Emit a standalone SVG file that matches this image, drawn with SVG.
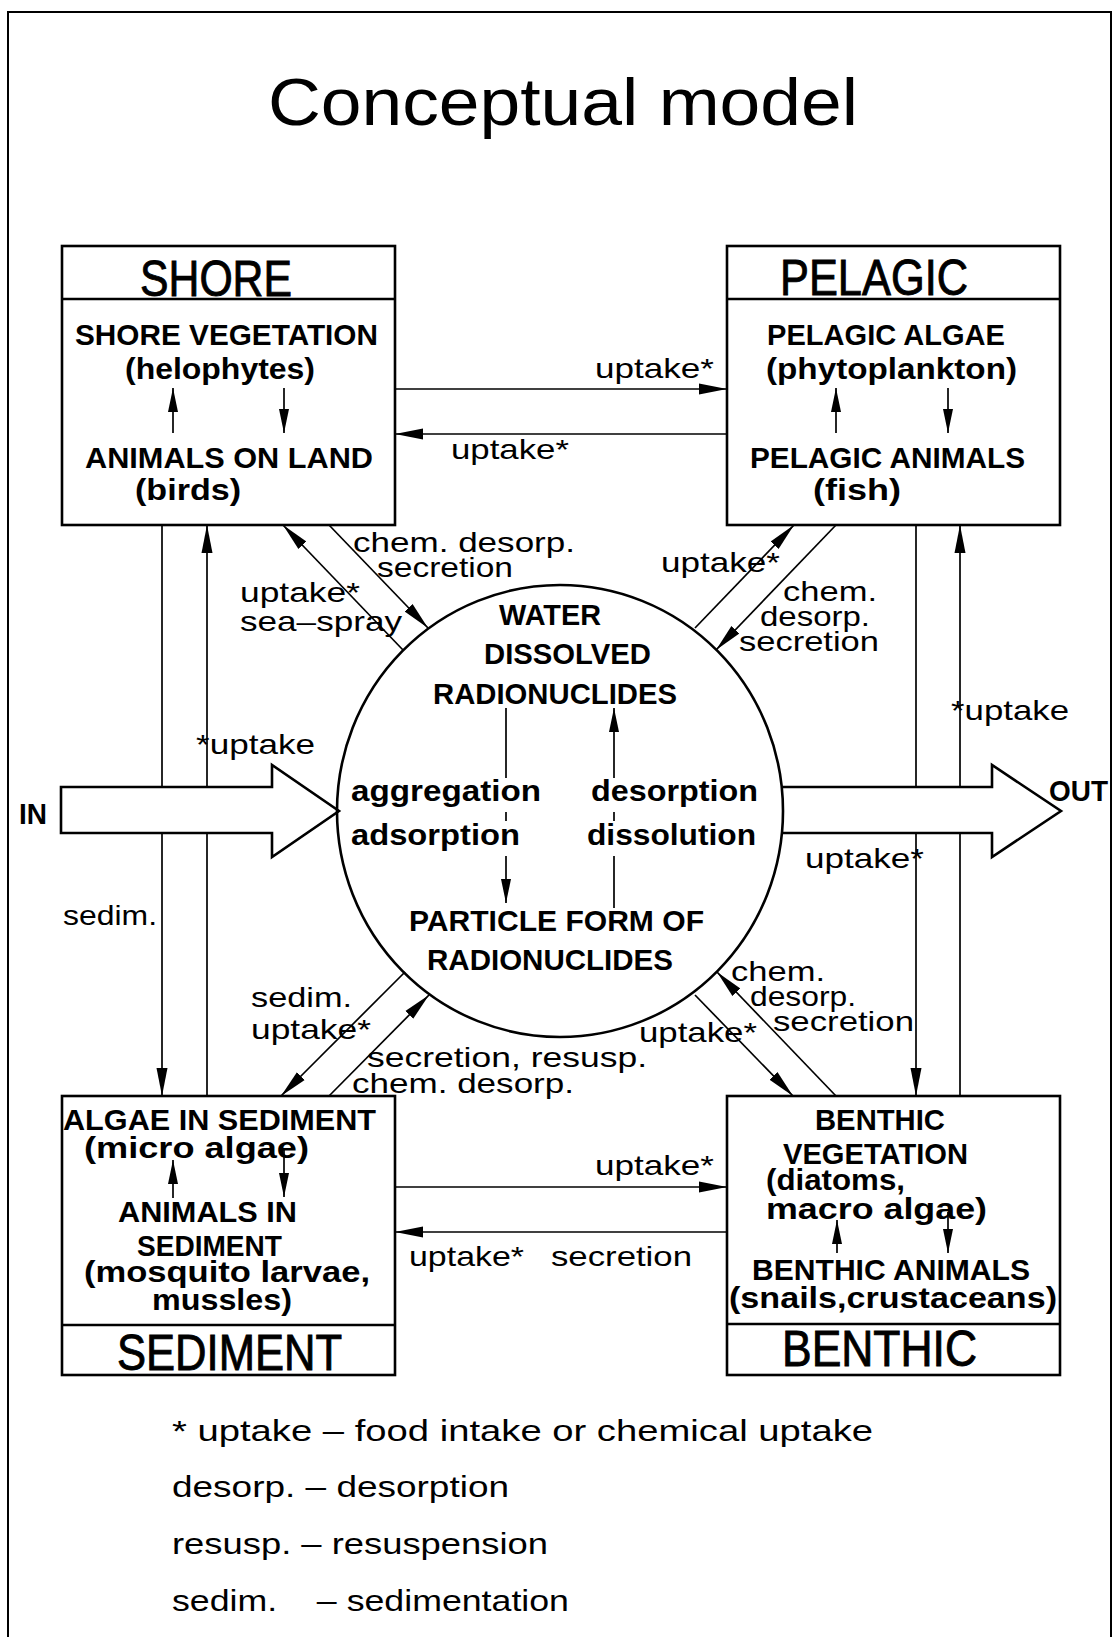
<svg xmlns="http://www.w3.org/2000/svg" width="1114" height="1637" viewBox="0 0 1114 1637">
<defs>
<style>
text{font-family:"Liberation Sans",Arial,sans-serif;fill:#000}
.title{font-size:67px}
.hdr{font-size:50px;stroke:#000;stroke-width:0.9}
.b{font-size:30px;font-weight:bold}
.lbl{font-size:28px}
.leg{font-size:30px;white-space:pre}
.box{fill:none;stroke:#000;stroke-width:2.6}
.ln{fill:none;stroke:#000;stroke-width:1.7}
.big{fill:#fff;stroke:#000;stroke-width:2.6;stroke-linejoin:miter}
</style>
<marker id="ah" markerUnits="userSpaceOnUse" markerWidth="30" markerHeight="14" refX="28" refY="7" orient="auto">
<path d="M0,1.5 L28,7 L0,12.5 Z" fill="#000"/>
</marker>
<marker id="ahs" markerUnits="userSpaceOnUse" markerWidth="26" markerHeight="12" refX="24" refY="6" orient="auto">
<path d="M0,1 L24,6 L0,11 Z" fill="#000"/>
</marker>
</defs>
<rect width="1114" height="1637" fill="#fff"/>
<path d="M8,1637 V12 H1111 V1637" fill="none" stroke="#000" stroke-width="2"/>
<text class="title" x="268" y="125" textLength="590" lengthAdjust="spacingAndGlyphs">Conceptual model</text>

<g id="connectors">
<line class="ln" x1="162" y1="525" x2="162" y2="1096" marker-end="url(#ah)"/>
<line class="ln" x1="207" y1="1096" x2="207" y2="525" marker-end="url(#ah)"/>
<line class="ln" x1="916" y1="525" x2="916" y2="1096" marker-end="url(#ah)"/>
<line class="ln" x1="960" y1="1096" x2="960" y2="525" marker-end="url(#ah)"/>
<line class="ln" x1="395" y1="389" x2="727" y2="389" marker-end="url(#ah)"/>
<line class="ln" x1="727" y1="434" x2="395" y2="434" marker-end="url(#ah)"/>
<line class="ln" x1="395" y1="1187" x2="727" y2="1187" marker-end="url(#ah)"/>
<line class="ln" x1="727" y1="1232" x2="395" y2="1232" marker-end="url(#ah)"/>
<line class="ln" x1="403" y1="650" x2="283" y2="525" marker-end="url(#ah)"/>
<line class="ln" x1="329" y1="525" x2="428" y2="628" marker-end="url(#ah)"/>
<line class="ln" x1="695" y1="628" x2="794" y2="525" marker-end="url(#ah)"/>
<line class="ln" x1="836" y1="525" x2="716" y2="650" marker-end="url(#ah)"/>
<line class="ln" x1="405" y1="972" x2="281" y2="1096" marker-end="url(#ah)"/>
<line class="ln" x1="329" y1="1096" x2="429" y2="995" marker-end="url(#ah)"/>
<line class="ln" x1="695" y1="995" x2="793" y2="1096" marker-end="url(#ah)"/>
<line class="ln" x1="836" y1="1096" x2="717" y2="972" marker-end="url(#ah)"/>
<line class="ln" x1="173" y1="433" x2="173" y2="388" marker-end="url(#ahs)"/>
<line class="ln" x1="284" y1="388" x2="284" y2="433" marker-end="url(#ahs)"/>
<line class="ln" x1="836" y1="433" x2="836" y2="388" marker-end="url(#ahs)"/>
<line class="ln" x1="948" y1="388" x2="948" y2="433" marker-end="url(#ahs)"/>
<line class="ln" x1="173" y1="1198" x2="173" y2="1160" marker-end="url(#ahs)"/>
<line class="ln" x1="284" y1="1150" x2="284" y2="1197" marker-end="url(#ahs)"/>
<line class="ln" x1="837" y1="1253" x2="837" y2="1220" marker-end="url(#ahs)"/>
<line class="ln" x1="948" y1="1212" x2="948" y2="1253" marker-end="url(#ahs)"/>
<path id="in-arrow" class="big" d="M61,787 H272 V765 L339,811 L272,857 V833 H61 Z"/>
<path id="out-arrow" class="big" d="M783,787 H992 V765 L1061,811 L992,857 V833 H783"/>
<line class="ln" x1="506" y1="708" x2="506" y2="778"/>
<line class="ln" x1="506" y1="812" x2="506" y2="821"/>
<line class="ln" x1="506" y1="856" x2="506" y2="903" marker-end="url(#ahs)"/>
<line class="ln" x1="614" y1="908" x2="614" y2="856"/>
<line class="ln" x1="614" y1="821" x2="614" y2="812"/>
<line class="ln" x1="614" y1="778" x2="614" y2="708" marker-end="url(#ahs)"/>
</g>

<g id="shore">
<rect class="box" x="62" y="246" width="333" height="279"/>
<line class="box" x1="62" y1="299" x2="395" y2="299"/>
<text class="hdr" x="140" y="296" textLength="152" lengthAdjust="spacingAndGlyphs">SHORE</text>
<text class="b" x="75" y="345" textLength="303" lengthAdjust="spacingAndGlyphs">SHORE VEGETATION</text>
<text class="b" x="125" y="379" textLength="190" lengthAdjust="spacingAndGlyphs">(helophytes)</text>
<text class="b" x="85" y="468" textLength="288" lengthAdjust="spacingAndGlyphs">ANIMALS ON LAND</text>
<text class="b" x="135" y="500" textLength="106" lengthAdjust="spacingAndGlyphs">(birds)</text>
</g>

<g id="pelagic">
<rect class="box" x="727" y="246" width="333" height="279"/>
<line class="box" x1="727" y1="299" x2="1060" y2="299"/>
<text class="hdr" x="780" y="295" textLength="188" lengthAdjust="spacingAndGlyphs">PELAGIC</text>
<text class="b" x="767" y="345" textLength="238" lengthAdjust="spacingAndGlyphs">PELAGIC ALGAE</text>
<text class="b" x="766" y="379" textLength="251" lengthAdjust="spacingAndGlyphs">(phytoplankton)</text>
<text class="b" x="750" y="468" textLength="275" lengthAdjust="spacingAndGlyphs">PELAGIC ANIMALS</text>
<text class="b" x="813" y="500" textLength="88" lengthAdjust="spacingAndGlyphs">(fish)</text>
</g>

<g id="sediment">
<rect class="box" x="62" y="1096" width="333" height="279"/>
<line class="box" x1="62" y1="1325" x2="395" y2="1325"/>
<text class="hdr" x="117" y="1370" textLength="225" lengthAdjust="spacingAndGlyphs">SEDIMENT</text>
<text class="b" x="63" y="1130" textLength="313" lengthAdjust="spacingAndGlyphs">ALGAE IN SEDIMENT</text>
<text class="b" x="84" y="1158" textLength="225" lengthAdjust="spacingAndGlyphs">(micro algae)</text>
<text class="b" x="118" y="1222" textLength="179" lengthAdjust="spacingAndGlyphs">ANIMALS IN</text>
<text class="b" x="137" y="1256" textLength="145" lengthAdjust="spacingAndGlyphs">SEDIMENT</text>
<text class="b" x="84" y="1282" textLength="286" lengthAdjust="spacingAndGlyphs">(mosquito larvae,</text>
<text class="b" x="152" y="1310" textLength="140" lengthAdjust="spacingAndGlyphs">mussles)</text>
</g>

<g id="benthic">
<rect class="box" x="727" y="1096" width="333" height="279"/>
<line class="box" x1="727" y1="1324" x2="1060" y2="1324"/>
<text class="hdr" x="782" y="1366" textLength="195" lengthAdjust="spacingAndGlyphs">BENTHIC</text>
<text class="b" x="815" y="1130" textLength="130" lengthAdjust="spacingAndGlyphs">BENTHIC</text>
<text class="b" x="783" y="1164" textLength="185" lengthAdjust="spacingAndGlyphs">VEGETATION</text>
<text class="b" x="766" y="1190" textLength="139" lengthAdjust="spacingAndGlyphs">(diatoms,</text>
<text class="b" x="766" y="1219" textLength="221" lengthAdjust="spacingAndGlyphs">macro algae)</text>
<text class="b" x="752" y="1280" textLength="278" lengthAdjust="spacingAndGlyphs">BENTHIC ANIMALS</text>
<text class="b" x="729" y="1308" textLength="328" lengthAdjust="spacingAndGlyphs">(snails,crustaceans)</text>
</g>

<g id="water">
<ellipse class="box" cx="560" cy="811" rx="223" ry="226"/>
<text class="b" x="499" y="625" textLength="102" lengthAdjust="spacingAndGlyphs">WATER</text>
<text class="b" x="484" y="664" textLength="167" lengthAdjust="spacingAndGlyphs">DISSOLVED</text>
<text class="b" x="433" y="704" textLength="244" lengthAdjust="spacingAndGlyphs">RADIONUCLIDES</text>
<text class="b" x="351" y="801" textLength="190" lengthAdjust="spacingAndGlyphs">aggregation</text>
<text class="b" x="351" y="845" textLength="169" lengthAdjust="spacingAndGlyphs">adsorption</text>
<text class="b" x="591" y="801" textLength="167" lengthAdjust="spacingAndGlyphs">desorption</text>
<text class="b" x="587" y="845" textLength="169" lengthAdjust="spacingAndGlyphs">dissolution</text>
<text class="b" x="409" y="931" textLength="295" lengthAdjust="spacingAndGlyphs">PARTICLE FORM OF</text>
<text class="b" x="427" y="970" textLength="246" lengthAdjust="spacingAndGlyphs">RADIONUCLIDES</text>
</g>

<g id="labels">
<text class="b" x="19" y="824" textLength="28" lengthAdjust="spacingAndGlyphs">IN</text>
<text class="b" x="1049" y="801" textLength="59" lengthAdjust="spacingAndGlyphs">OUT</text>
<text class="lbl" x="595" y="378" textLength="119" lengthAdjust="spacingAndGlyphs">uptake*</text>
<text class="lbl" x="451" y="459" textLength="118" lengthAdjust="spacingAndGlyphs">uptake*</text>
<text class="lbl" x="353" y="552" textLength="222" lengthAdjust="spacingAndGlyphs">chem. desorp.</text>
<text class="lbl" x="377" y="577" textLength="136" lengthAdjust="spacingAndGlyphs">secretion</text>
<text class="lbl" x="240" y="602" textLength="120" lengthAdjust="spacingAndGlyphs">uptake*</text>
<text class="lbl" x="240" y="631" textLength="162" lengthAdjust="spacingAndGlyphs">sea–spray</text>
<text class="lbl" x="661" y="572" textLength="119" lengthAdjust="spacingAndGlyphs">uptake*</text>
<text class="lbl" x="783" y="601" textLength="94" lengthAdjust="spacingAndGlyphs">chem.</text>
<text class="lbl" x="760" y="626" textLength="110" lengthAdjust="spacingAndGlyphs">desorp.</text>
<text class="lbl" x="739" y="651" textLength="140" lengthAdjust="spacingAndGlyphs">secretion</text>
<text class="lbl" x="951" y="720" textLength="118" lengthAdjust="spacingAndGlyphs">*uptake</text>
<text class="lbl" x="196" y="754" textLength="119" lengthAdjust="spacingAndGlyphs">*uptake</text>
<text class="lbl" x="805" y="868" textLength="119" lengthAdjust="spacingAndGlyphs">uptake*</text>
<text class="lbl" x="63" y="925" textLength="94" lengthAdjust="spacingAndGlyphs">sedim.</text>
<text class="lbl" x="251" y="1007" textLength="101" lengthAdjust="spacingAndGlyphs">sedim.</text>
<text class="lbl" x="251" y="1039" textLength="120" lengthAdjust="spacingAndGlyphs">uptake*</text>
<text class="lbl" x="367" y="1067" textLength="280" lengthAdjust="spacingAndGlyphs">secretion, resusp.</text>
<text class="lbl" x="352" y="1093" textLength="222" lengthAdjust="spacingAndGlyphs">chem. desorp.</text>
<text class="lbl" x="639" y="1042" textLength="118" lengthAdjust="spacingAndGlyphs">uptake*</text>
<text class="lbl" x="731" y="981" textLength="94" lengthAdjust="spacingAndGlyphs">chem.</text>
<text class="lbl" x="750" y="1006" textLength="106" lengthAdjust="spacingAndGlyphs">desorp.</text>
<text class="lbl" x="773" y="1031" textLength="141" lengthAdjust="spacingAndGlyphs">secretion</text>
<text class="lbl" x="595" y="1175" textLength="119" lengthAdjust="spacingAndGlyphs">uptake*</text>
<text class="lbl" x="409" y="1266" textLength="115" lengthAdjust="spacingAndGlyphs">uptake*</text>
<text class="lbl" x="551" y="1266" textLength="141" lengthAdjust="spacingAndGlyphs">secretion</text>
</g>

<g id="legend">
<text class="leg" x="172" y="1441" textLength="701" lengthAdjust="spacingAndGlyphs">* uptake – food intake or chemical uptake</text>
<text class="leg" x="172" y="1497" textLength="337" lengthAdjust="spacingAndGlyphs">desorp. – desorption</text>
<text class="leg" x="172" y="1554" textLength="376" lengthAdjust="spacingAndGlyphs">resusp. – resuspension</text>
<text class="leg" x="172" y="1611" textLength="397" lengthAdjust="spacingAndGlyphs">sedim.    – sedimentation</text>
</g>
</svg>
